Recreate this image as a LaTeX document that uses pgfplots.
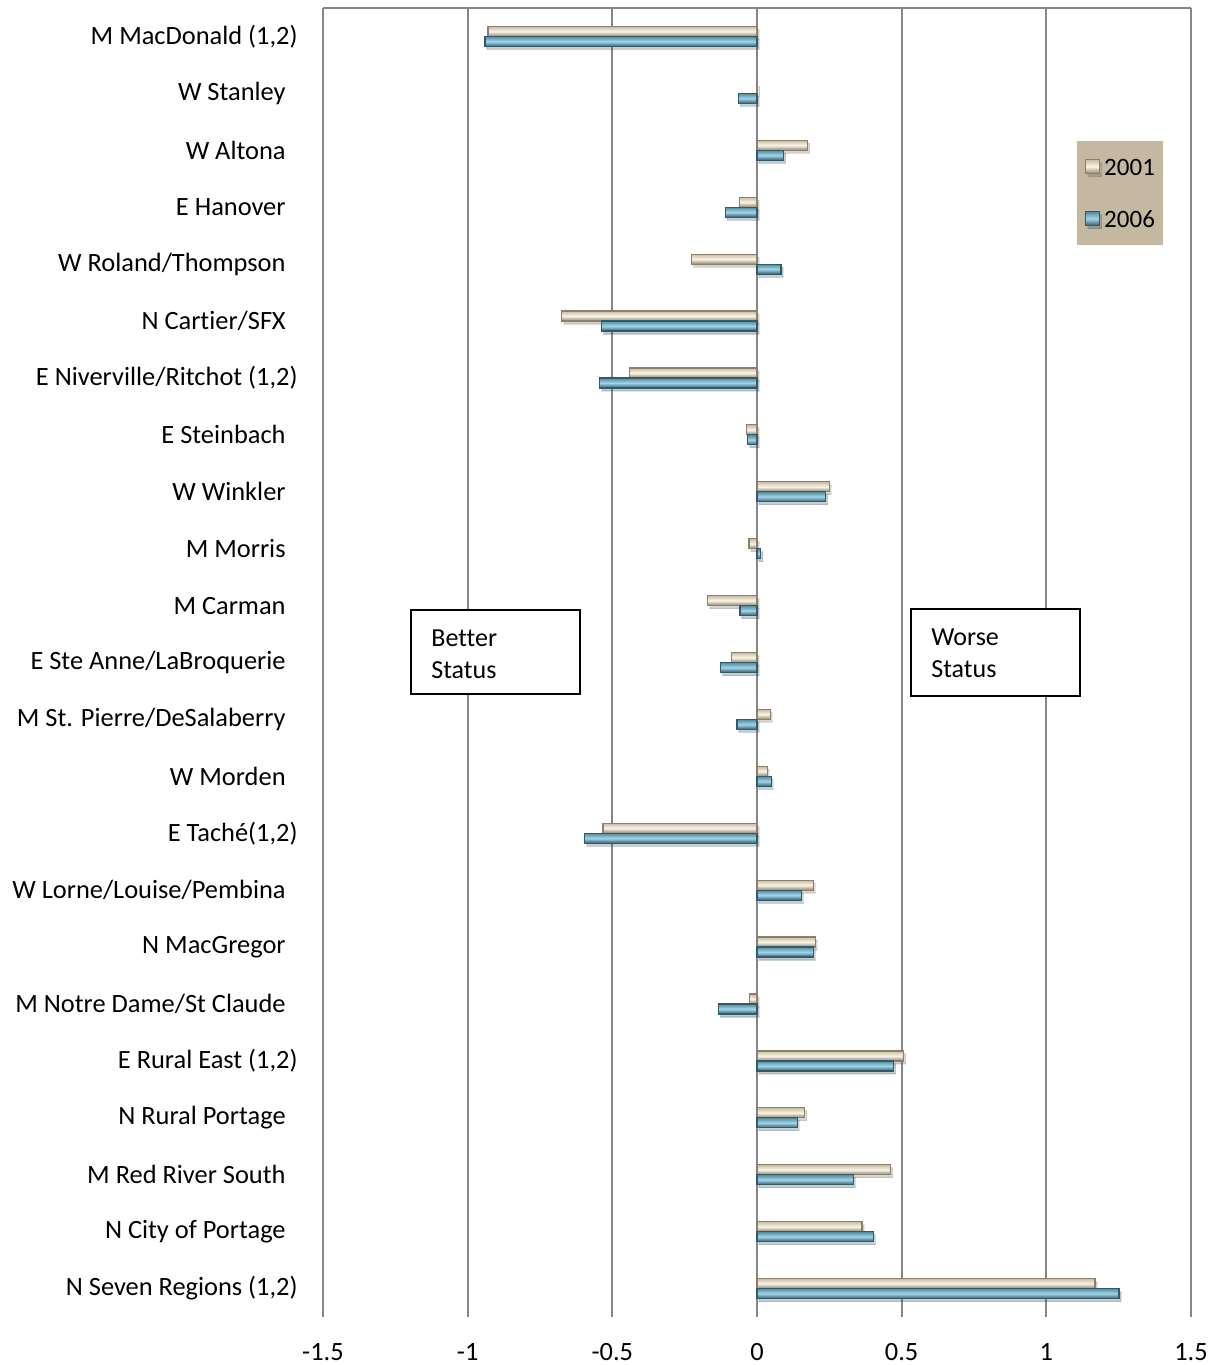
\documentclass[border=0pt]{standalone}
\usepackage{fontspec}
\setmainfont{Carlito}[Ligatures=NoCommon]
\usepackage{pgfplots}
\usepackage{pgfplotstable}
\pgfplotsset{compat=1.18}
\usetikzlibrary{shadows}

\definecolor{gridgray}{RGB}{134,134,134}
\definecolor{legtan}{RGB}{196,184,160}
\definecolor{tanlight}{RGB}{250,245,230}
\definecolor{tanmid}{RGB}{200,188,164}
\definecolor{tandark}{RGB}{140,128,108}
\definecolor{teallight}{RGB}{160,214,234}
\definecolor{tealmid}{RGB}{84,138,158}
\definecolor{tealdark}{RGB}{52,90,106}

% deviation from the regional average, by district
\pgfplotstableread[col sep=comma]{
idx,y2001,y2006
0,-0.930,-0.940
1,0.003,-0.064
2,0.175,0.092
3,-0.061,-0.110
4,-0.226,0.083
5,-0.675,-0.537
6,-0.442,-0.544
7,-0.035,-0.032
8,0.250,0.238
9,-0.028,0.013
10,-0.171,-0.059
11,-0.088,-0.126
12,0.046,-0.069
13,0.035,0.049
14,-0.532,-0.595
15,0.195,0.153
16,0.201,0.195
17,-0.027,-0.134
18,0.507,0.473
19,0.165,0.139
20,0.462,0.333
21,0.363,0.402
22,1.168,1.251
}\districts

\newcommand{\tsp}{\hspace*{6pt}}

\pgfplotsset{
  bar2001/.style={draw=tandark, line width=0.6pt,
    top color=tanmid, bottom color=tandark, middle color=tanlight,
    drop shadow={shadow xshift=1pt, shadow yshift=-1.5pt, fill=black, opacity=0.15}},
  bar2006/.style={draw=tealdark, line width=0.6pt,
    top color=tealmid, bottom color=tealdark, middle color=teallight,
    drop shadow={shadow xshift=1pt, shadow yshift=-1.5pt, fill=black, opacity=0.15}},
}

\begin{document}
\begin{tikzpicture}
\path[use as bounding box] (0pt,0pt) rectangle (608.5pt,-682.5pt);
\begin{axis}[
  at={(161.5pt,-658.5pt)}, anchor=south west,
  scale only axis, width=434pt, height=654.5pt,
  xbar, bar width=5pt,
  xmin=-1.5, xmax=1.5,
  ymin=-0.5, ymax=22.5, y dir=reverse,
  xtick={-1.5,-1,-0.5,0,0.5,1,1.5},
  xticklabels={-1.5,-1,-0.5,0,0.5,1,1.5},
  ytick={0,...,22},
  yticklabels={
    {M MacDonald (1,2)}, W Stanley\tsp, W Altona\tsp, E Hanover\tsp,
    W Roland/Thompson\tsp, N Cartier/SFX\tsp, {E Niverville/Ritchot (1,2)},
    E Steinbach\tsp, W Winkler\tsp, M Morris\tsp, M Carman\tsp,
    E Ste Anne/LaBroquerie\tsp, M St. Pierre/DeSalaberry\tsp, W Morden\tsp,
    {E Taché(1,2)}, W Lorne/Louise/Pembina\tsp, N MacGregor\tsp,
    M Notre Dame/St Claude\tsp, {E Rural East (1,2)}, N Rural Portage\tsp,
    M Red River South\tsp, N City of Portage\tsp, {N Seven Regions (1,2)}},
  xmajorgrids, grid style={gridgray, line width=1pt},
  axis line style={draw=none},
  major tick length=0pt,
  tick label style={font=\fontsize{13.2}{15}\selectfont},
  xticklabel style={anchor=north, inner sep=0pt, yshift=-13pt},
  yticklabel style={anchor=east, inner sep=0pt, xshift=-12.5pt},
  legend style={at={(axis description cs:0.8687,0.899)}, anchor=north west,
    fill=legtan, draw=none, inner xsep=4pt, inner ysep=8.5pt, row sep=17pt,
    font=\fontsize{12.5}{15}\selectfont,
    nodes={inner sep=0pt, text height=9pt, text depth=0pt}},
  legend cell align=left,
  legend image code/.code={\draw[#1, line width=0.4pt] (0pt,-3.5pt) rectangle (7pt,3.5pt);},
]
% one path per bar, so that each bar carries its own shading
\pgfplotsinvokeforeach{0,...,22}{
  \addplot[xbar, bar shift=2.5pt, bar2001, forget plot,
    restrict y to domain=#1:#1]
    table[x=y2001, y=idx] {\districts};
  \addplot[xbar, bar shift=-2.5pt, bar2006, forget plot,
    restrict y to domain=#1:#1]
    table[x=y2006, y=idx] {\districts};
}
\addlegendimage{bar2001}
\addlegendentry{\hspace*{2pt}2001}
\addlegendimage{bar2006}
\addlegendentry{\hspace*{2pt}2006}
\end{axis}
\begin{scope}[x=0.5pt,y=-0.5pt]
\draw[gridgray, line width=1pt] (323,8) -- (1191,8);
\draw[black, line width=0.8pt, fill=white] (411,610) rectangle (580,694);
\node[anchor=west, align=left, inner sep=0pt, font=\fontsize{13}{16}\selectfont] at (431,654) {Better\\Status};
\draw[black, line width=0.8pt, fill=white] (911,609) rectangle (1080,696);
\node[anchor=west, align=left, inner sep=0pt, font=\fontsize{13}{16}\selectfont] at (931,653) {Worse\\Status};
\end{scope}
\end{tikzpicture}
\end{document}
